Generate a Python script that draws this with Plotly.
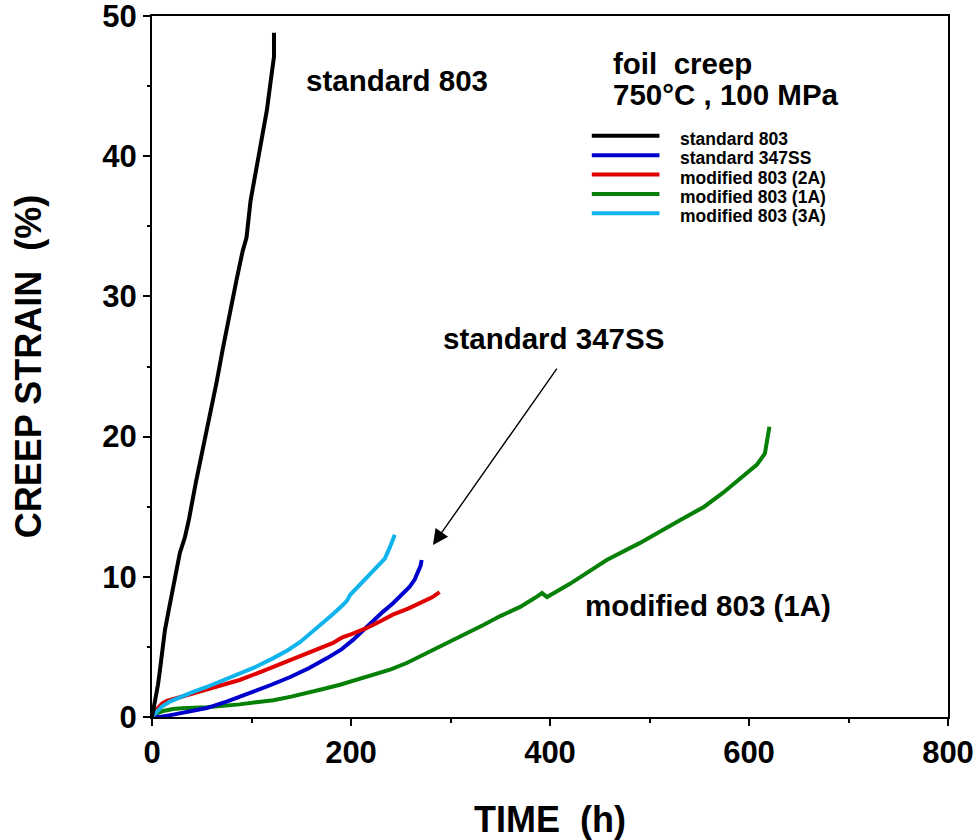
import plotly.graph_objects as go

# Creep curves of foil specimens, 750 °C / 100 MPa
names = ["standard 803", "standard 347SS", "modified 803 (2A)",
         "modified 803 (1A)", "modified 803 (3A)"]
colors = ["#000000", "#0000CC", "#E00000", "#078007", "#10B4EC"]

t_std803 = [0, 2, 4, 6, 8, 10, 13, 17, 21, 25, 28, 33, 37, 44, 51, 58, 65, 71,
            78, 85, 91, 95, 99, 104, 108.5, 112, 115.5, 119, 122.6, 122.6]
e_std803 = [0, 0.7, 1.3, 2.3, 3.35, 4.5, 6.2, 7.7, 9.05, 10.5, 11.7, 12.8, 14.05,
            16.7, 19.0, 21.5, 23.9, 26.2, 28.8, 31.2, 33.2, 34.2, 36.8, 38.7,
            40.4, 41.9, 43.3, 45.2, 47.1, 48.8]

t_347 = [0, 8, 20, 35, 55, 75, 102, 120, 139, 158, 176, 190, 202, 212, 222,
         232, 242, 251, 259, 264, 267, 270, 271]
e_347 = [0, 0, 0.15, 0.35, 0.64, 1.1, 1.8, 2.3, 2.85, 3.5, 4.2, 4.8, 5.5, 6.2,
         6.9, 7.5, 8.1, 8.7, 9.3, 9.8, 10.3, 10.8, 11.2]

t_2a = [0, 3, 6, 10, 15, 20, 25, 40, 55, 70, 88, 105, 122, 140, 156, 170, 182,
        188, 192, 200, 216, 230, 242, 258, 272, 282, 289]
e_2a = [0, 0.35, 0.65, 0.95, 1.15, 1.25, 1.35, 1.65, 1.93, 2.25, 2.64, 3.1,
        3.57, 4.05, 4.56, 4.95, 5.28, 5.55, 5.7, 5.9, 6.35, 6.85, 7.3, 7.75,
        8.2, 8.55, 8.9]

t_1a = [0, 5, 11, 21, 30, 55, 88, 105, 122, 140, 156, 172, 189, 205, 222, 240,
        256, 272, 289, 310, 333, 350, 370, 385, 392, 397, 420, 457, 490, 531,
        555, 574, 598, 608, 616, 619, 620.5]
e_1a = [0, 0.25, 0.43, 0.57, 0.62, 0.7, 0.9, 1.05, 1.2, 1.45, 1.7, 2.0, 2.3,
        2.65, 3.0, 3.4, 3.85, 4.4, 5.0, 5.7, 6.56, 7.2, 7.85, 8.5, 8.84, 8.56,
        9.5, 11.2, 12.4, 14.05, 15.0, 16.0, 17.4, 18.0, 18.8, 20.0, 20.7]

t_3a = [0, 5, 10, 18, 28, 40, 55, 70, 88, 105, 122, 136, 149, 160, 172, 182,
        192, 196, 199, 207, 216, 225, 234, 239, 244]
e_3a = [0, 0.4, 0.75, 1.1, 1.43, 1.75, 2.14, 2.6, 3.1, 3.6, 4.2, 4.75, 5.35,
        6.0, 6.7, 7.35, 8.0, 8.3, 8.7, 9.3, 9.9, 10.6, 11.3, 12.1, 13.0]

times = [t_std803, t_347, t_2a, t_1a, t_3a]
strains = [e_std803, e_347, e_2a, e_1a, e_3a]

x_ticks = [0, 200, 400, 600, 800]
y_ticks = [0, 10, 20, 30, 40, 50]

FONT = "Liberation Sans, Arial, sans-serif"

fig = go.Figure()
# draw order: 1A underneath, then the others
for i in [3, 1, 2, 4, 0]:
    fig.add_trace(go.Scatter(x=times[i], y=strains[i], mode="lines",
                             name=names[i], showlegend=False,
                             line=dict(color=colors[i], width=4)))

# hand-placed legend block (long line samples)
leg_y = [41.45, 40.07, 38.69, 37.31, 35.93]
for i, name in enumerate(names):
    fig.add_shape(type="line", x0=442, x1=510, y0=leg_y[i], y1=leg_y[i],
                  xref="x", yref="y", line=dict(color=colors[i], width=4))
    fig.add_annotation(x=529, y=leg_y[i] - 0.22, text=name, showarrow=False,
                       xanchor="left", yanchor="middle",
                       font=dict(family=FONT, size=17.5, color="black", weight="bold"))

labels = [
    dict(x=153, y=45.4, text="standard 803"),
    dict(x=461, y=46.6, text="foil  creep"),
    dict(x=461, y=44.4, text="750°C , 100 MPa"),
    dict(x=290, y=27.0, text="standard 347SS"),
    dict(x=433, y=7.95, text="modified 803 (1A)"),
]
for lab in labels:
    fig.add_annotation(x=lab["x"], y=lab["y"], text=lab["text"], showarrow=False,
                       xanchor="left", yanchor="middle",
                       font=dict(family=FONT, size=29.5, color="black", weight="bold"))

# pointer to the 347SS curve
fig.add_annotation(x=282.4, y=12.27, ax=408, ay=24.96, axref="x", ayref="y",
                   text="", showarrow=True, arrowhead=2, arrowsize=2.2,
                   arrowwidth=1.4, arrowcolor="black")

axis_common = dict(showline=True, linecolor="black", linewidth=2, mirror=True,
                   ticks="outside", tickcolor="black", tickwidth=2, ticklen=7,
                   showgrid=False, zeroline=False, automargin=False,
                   ticklabeloverflow="allow",
                   tickfont=dict(family=FONT, size=31, color="black", weight="bold"))

fig.update_xaxes(range=[0, 800], tickvals=x_ticks,
                 minor=dict(dtick=100, ticks="outside", ticklen=4, tickwidth=2,
                            tickcolor="black", showgrid=False),
                 title=dict(text="TIME  (h)", standoff=38,
                            font=dict(family=FONT, size=36, color="black", weight="bold")),
                 **axis_common)
fig.update_yaxes(range=[0, 50], tickvals=y_ticks,
                 minor=dict(dtick=5, ticks="outside", ticklen=3, tickwidth=2,
                            tickcolor="black", showgrid=False),
                 title=dict(text="CREEP STRAIN  (%)", standoff=50,
                            font=dict(family=FONT, size=36, color="black", weight="bold")),
                 **axis_common)

fig.update_layout(width=980, height=840,
                  margin=dict(l=152, r=32, t=16, b=123),
                  plot_bgcolor="white", paper_bgcolor="white",
                  showlegend=False)

fig.write_html("out.html")
